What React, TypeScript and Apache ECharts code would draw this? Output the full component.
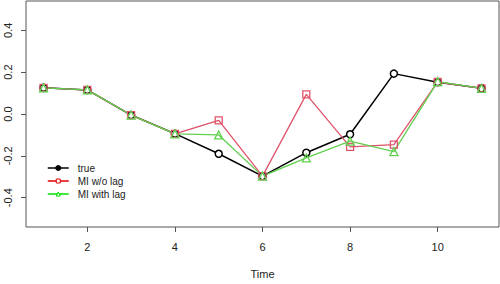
import React, { useEffect, useRef } from "react";
import * as echarts from "echarts";

const times = [1, 2, 3, 4, 5, 6, 7, 8, 9, 10, 11];
const trueVals = [0.125, 0.115, -0.005, -0.094, -0.19, -0.297, -0.185, -0.097, 0.193, 0.152, 0.123];
const miNoLag = [0.125, 0.115, -0.005, -0.095, -0.03, -0.297, 0.094, -0.157, -0.146, 0.153, 0.122];
const miLag = [0.125, 0.115, -0.005, -0.095, -0.1, -0.297, -0.21, -0.13, -0.18, 0.155, 0.122];
const xTicks = [2, 4, 6, 8, 10];
const yTicks = [-0.4, -0.2, 0, 0.2, 0.4];
const seriesNames = ["true", "MI w/o lag", "MI with lag"];

const FONT = "Liberation Sans, Arial, sans-serif";

export default function App() {
  const ref = useRef<HTMLDivElement>(null);
  useEffect(() => {
    document.body.style.margin = "0";
    const chart = echarts.init(ref.current!, undefined, { renderer: "svg" });
    const pts = (vals: number[]) => times.map((t, i) => [t, vals[i]]);
    chart.setOption({
      animation: false,
      backgroundColor: "#ffffff",
      grid: {
        left: 26,
        right: 1,
        top: 1,
        bottom: 57,
        show: true,
        borderColor: "#555",
        borderWidth: 1,
        backgroundColor: "transparent",
      },
      legend: {
        orient: "vertical",
        left: 47,
        top: 163,
        padding: 0,
        itemWidth: 21,
        itemHeight: 5,
        itemGap: 3,
        textStyle: { fontFamily: FONT, fontSize: 10, color: "#222", padding: [0, 0, 0, 4] },
        data: [
          { name: seriesNames[0], itemStyle: { color: "#000", borderColor: "#000" }, lineStyle: { color: "#000", width: 1.5 } },
          { name: seriesNames[1], itemStyle: { color: "#fff", borderColor: "#e00000", borderWidth: 1 }, lineStyle: { color: "#e00000", width: 1.5 } },
          { name: seriesNames[2], itemStyle: { color: "#fff", borderColor: "#00e000", borderWidth: 1 }, lineStyle: { color: "#00e000", width: 1.5 } },
        ],
      },
      xAxis: {
        type: "value",
        min: 0.6,
        max: 11.4,
        name: "Time",
        nameLocation: "middle",
        nameGap: 41,
        nameTextStyle: { fontFamily: FONT, fontSize: 11, color: "#222" },
        axisLine: { show: false, onZero: false },
        splitLine: { show: false },
        axisTick: { show: true, inside: false, length: 5, lineStyle: { color: "#555" }, customValues: xTicks },
        axisLabel: { fontFamily: FONT, fontSize: 11, color: "#222", margin: 14, customValues: xTicks },
      },
      yAxis: {
        type: "value",
        min: -0.54,
        max: 0.54,
        axisLine: { show: false, onZero: false },
        splitLine: { show: false },
        axisTick: { show: true, inside: false, length: 5, lineStyle: { color: "#555" }, customValues: yTicks },
        axisLabel: {
          fontFamily: FONT,
          fontSize: 11,
          color: "#222",
          rotate: 90,
          margin: 13,
          customValues: yTicks,
          formatter: (v: number) => v.toFixed(1),
        },
      },
      series: [
        {
          name: seriesNames[0],
          type: "line",
          data: pts(trueVals),
          symbol: "circle",
          symbolSize: 7,
          lineStyle: { color: "#000", width: 1.5 },
          itemStyle: { color: "#fff", borderColor: "#000", borderWidth: 1.5 },
        },
        {
          name: seriesNames[1],
          type: "line",
          data: pts(miNoLag),
          symbol: "rect",
          symbolSize: 7,
          lineStyle: { color: "#DF536B", width: 1.3 },
          itemStyle: { color: "transparent", borderColor: "#DF536B", borderWidth: 1.3 },
        },
        {
          name: seriesNames[2],
          type: "line",
          data: pts(miLag),
          symbol: "triangle",
          symbolSize: 8,
          lineStyle: { color: "#61D04F", width: 1.3 },
          itemStyle: { color: "transparent", borderColor: "#61D04F", borderWidth: 1.3 },
        },
      ],
    });
    return () => chart.dispose();
  }, []);
  return <div ref={ref} style={{ width: 500, height: 284 }} />;
}
